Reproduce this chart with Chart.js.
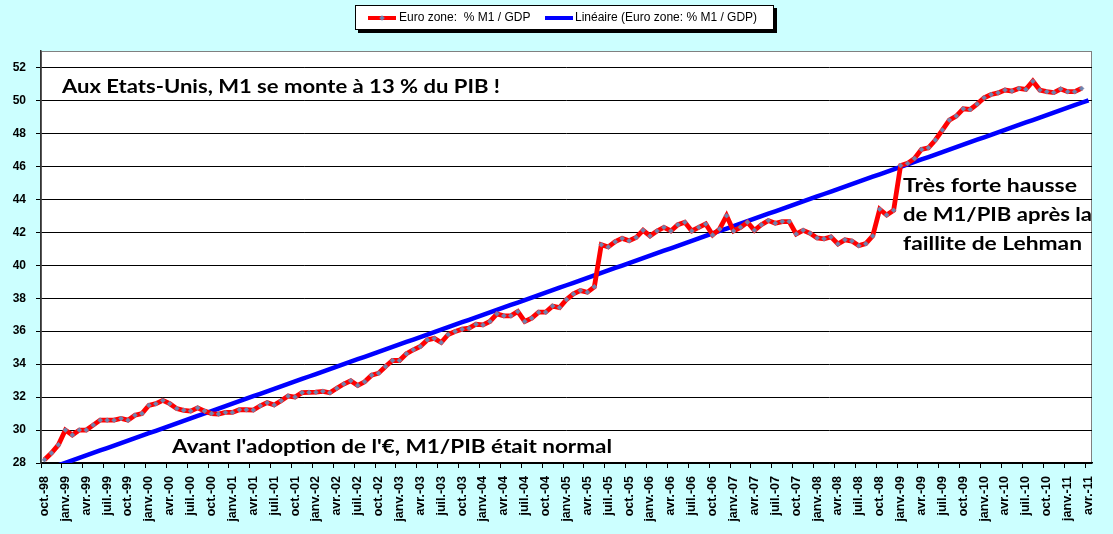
<!DOCTYPE html>
<html>
<head>
<meta charset="utf-8">
<script src="https://cdn.jsdelivr.net/npm/chart.js@4.4.1/dist/chart.umd.min.js"></script>
<style>
  html, body { margin: 0; padding: 0; background: #CCFFFF; }
  #wrap { position: relative; width: 1113px; height: 534px; overflow: hidden; }
  #c { position: absolute; left: 0; top: 0; }
  #legend { position: absolute; left: 355px; top: 5px; width: 417px; height: 23px;
            background: #fff; border: 1px solid #000; box-shadow: 3px 3px 0 #000;
            font-family: "Liberation Sans", Arial, sans-serif; font-size: 12px; color: #000; }
  .lg-line { position: absolute; height: 4px; top: 10px; width: 28px; }
  .lg-mark { position: absolute; width: 4px; height: 4px; background: #6C84B0; transform: rotate(45deg); top: 10px; }
  .lg-text { position: absolute; top: 4px; white-space: nowrap; }
</style>
</head>
<body>
<div id="wrap">
  <canvas id="c" width="1113" height="534"></canvas>
  <div id="legend">
    <div class="lg-line" style="left:12px;background:#FF0000;"></div>
    <div class="lg-mark" style="left:24px;"></div>
    <div class="lg-text" style="left:43px;">Euro zone: &nbsp;% M1 / GDP</div>
    <div class="lg-line" style="left:189px;background:#0000FF;"></div>
    <div class="lg-text" style="left:219px;">Linéaire (Euro zone: % M1 / GDP)</div>
  </div>
</div>
<script>
// ---- data ----
const monthNames = ['janv.', 'févr.', 'mars', 'avr.', 'mai', 'juin', 'juil.', 'août', 'sept.', 'oct.', 'nov.', 'déc.'];
const startYear = 1998;
const startMonth = 9; // oct.
const monthCount = 151; // oct.-98 .. avr.-11

const categories = [];
for (let k = 0; k < monthCount; k++) {
  const m = (startMonth + k) % 12;
  const y = startYear + Math.floor((startMonth + k) / 12);
  categories.push(monthNames[m] + '-' + String(y % 100).padStart(2, '0'));
}

const seriesName = 'Euro zone: % M1 / GDP';
const trendName = 'Linéaire (Euro zone: % M1 / GDP)';

const m1GdpValues = [
  28.2, 28.6, 29.1, 30.0, 29.7, 30.0, 30.0, 30.3, 30.6, 30.6,
  30.6, 30.7, 30.6, 30.9, 31.0, 31.5, 31.6, 31.8, 31.6, 31.3,
  31.2, 31.15, 31.35, 31.15, 31.0, 30.97, 31.07, 31.07, 31.23, 31.23,
  31.21, 31.47, 31.66, 31.52, 31.78, 32.06, 32.0, 32.27, 32.29, 32.3,
  32.35, 32.26, 32.53, 32.79, 32.99, 32.71, 32.93, 33.33, 33.45, 33.86,
  34.22, 34.22, 34.63, 34.87, 35.07, 35.47, 35.56, 35.31, 35.80, 35.98,
  36.12, 36.18, 36.42, 36.38, 36.59, 37.05, 36.93, 36.93, 37.19, 36.59,
  36.79, 37.15, 37.15, 37.52, 37.43, 37.92, 38.26, 38.46, 38.36, 38.69,
  41.25, 41.11, 41.43, 41.63, 41.49, 41.68, 42.12, 41.78, 42.08, 42.30,
  42.08, 42.46, 42.61, 42.08, 42.30, 42.51, 41.84, 42.20, 43.01, 42.08,
  42.30, 42.61, 42.12, 42.46, 42.71, 42.55, 42.65, 42.65, 41.90, 42.12,
  41.94, 41.66, 41.60, 41.72, 41.29, 41.54, 41.47, 41.19, 41.31, 41.78,
  43.40, 43.05, 43.33, 46.05, 46.18, 46.48, 47.03, 47.13, 47.60, 48.20,
  48.81, 49.05, 49.49, 49.45, 49.78, 50.16, 50.36, 50.46, 50.63, 50.57,
  50.73, 50.67, 51.17, 50.63, 50.53, 50.48, 50.69, 50.53, 50.53, 50.73,
  null
];

const yMin = 28, yMax = 53, yStep = 2;

const annotationLines = [
  { text: 'Aux Etats-Unis, M1 se monte à 13 % du PIB !', x: 62, y: 93, w: 438 },
  { text: "Avant l'adoption de l'€, M1/PIB était normal", x: 172, y: 453, w: 440 },
  { text: 'Très forte hausse', x: 903, y: 192, w: 174 },
  { text: 'de M1/PIB après la', x: 903, y: 221, w: 189 },
  { text: 'faillite de Lehman', x: 903, y: 250, w: 179 }
];

// linear trend (least squares) computed from the series
function linearTrend(vals, n) {
  let sx = 0, sy = 0, sxx = 0, sxy = 0, c = 0;
  vals.forEach((v, i) => { if (v !== null) { sx += i; sy += v; sxx += i * i; sxy += i * v; c++; } });
  const slope = (c * sxy - sx * sy) / (c * sxx - sx * sx);
  const icpt = (sy - slope * sx) / c;
  const out = [];
  for (let i = 0; i < n; i++) out.push(icpt + slope * i);
  return out;
}
const trendValues = linearTrend(m1GdpValues, monthCount);

// ---- plugins ----
const plotBg = {
  id: 'plotBg',
  beforeDraw(chart) {
    const { ctx, chartArea: a } = chart;
    ctx.save();
    ctx.fillStyle = '#FFFFFF';
    ctx.fillRect(a.left, a.top, a.right - a.left, a.bottom - a.top);
    ctx.strokeStyle = '#808080';
    ctx.lineWidth = 1;
    ctx.strokeRect(a.left + 0.5, a.top + 0.5, a.right - a.left - 1, a.bottom - a.top);
    ctx.restore();
  }
};
const notes = {
  id: 'notes',
  afterDatasetsDraw(chart) {
    const ctx = chart.ctx;
    ctx.save();
    ctx.fillStyle = '#000';
    ctx.textBaseline = 'alphabetic';
    ctx.textAlign = 'left';
    ctx.font = 'bold 19px Lato, "Open Sans", sans-serif';
    annotationLines.forEach(l => {
      const mw = ctx.measureText(l.text).width;
      const sc = l.w / mw;
      ctx.save();
      ctx.translate(l.x, l.y);
      ctx.scale(sc, 1);
      ctx.fillText(l.text, 0, 0);
      ctx.restore();
    });
    ctx.restore();
  }
};

new Chart(document.getElementById('c'), {
  type: 'line',
  data: {
    labels: categories,
    datasets: [
      {
        label: seriesName,
        data: m1GdpValues,
        borderColor: '#FF0000',
        borderWidth: 4.8,
        pointStyle: 'rectRot',
        pointRadius: 2.5,
        pointBackgroundColor: '#6C84B0',
        pointBorderColor: '#8A7FA0',
        pointBorderWidth: 0.5,
        tension: 0,
        order: 1
      },
      {
        label: trendName,
        data: trendValues,
        borderColor: '#0000FF',
        borderWidth: 4.5,
        pointRadius: 0,
        tension: 0,
        order: 2
      }
    ]
  },
  options: {
    responsive: false,
    animation: false,
    devicePixelRatio: 1,
    layout: { padding: { top: 51, right: 21, left: 0, bottom: 0 } },
    plugins: { legend: { display: false }, tooltip: { enabled: false } },
    scales: {
      x: {
        type: 'category',
        offset: true,
        grid: {
          offset: true,
          drawOnChartArea: false,
          drawTicks: true,
          tickLength: 5,
          tickColor: c => (c.index !== undefined && c.index % 3 === 0) ? '#000' : 'rgba(0,0,0,0)'
        },
        border: { display: true, color: '#000', width: 1.5 },
        ticks: {
          autoSkip: false,
          maxRotation: 90,
          minRotation: 90,
          padding: 8,
          color: '#000',
          font: { family: '"Liberation Sans", Arial, sans-serif', weight: 'bold', size: 12.5 },
          callback: (v, i) => (i % 3 === 0 ? categories[i] : '')
        },
        afterFit: s => { s.height = 71; }
      },
      y: {
        min: yMin,
        max: yMax,
        ticks: {
          stepSize: yStep,
          includeBounds: false,
          padding: 10,
          color: '#000',
          font: { family: '"Liberation Sans", Arial, sans-serif', weight: 'bold', size: 12 }
        },
        grid: { color: '#000', lineWidth: 1, tickLength: 5, tickColor: '#000' },
        border: { display: true, color: '#333', width: 1.5 },
        afterFit: s => { s.width = 41; }
      }
    }
  },
  plugins: [plotBg, notes]
});
</script>
</body>
</html>
